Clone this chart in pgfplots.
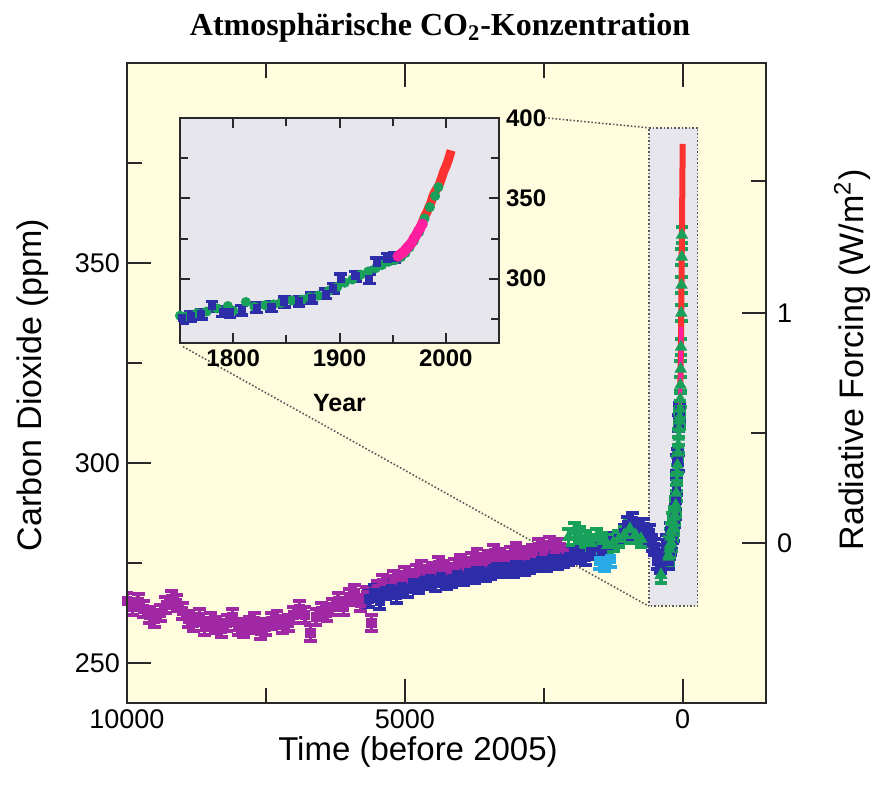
\documentclass[border=0pt]{standalone}
\usepackage{fontspec}
\setmainfont{Liberation Sans}
\newfontfamily\titlefont{Liberation Serif}
\usepackage{pgfplots}
\usepackage{pgfplotstable}
\pgfplotsset{compat=1.18}

\definecolor{cream}{RGB}{255,253,222}
\definecolor{insetbg}{RGB}{230,230,236}
\definecolor{cpurple}{RGB}{160,40,165}
\definecolor{cblue}{RGB}{45,45,170}
\definecolor{cgreen}{RGB}{25,160,90}
\definecolor{ccyan}{RGB}{40,170,230}
\definecolor{cpink}{RGB}{255,30,160}
\definecolor{cred}{RGB}{255,50,50}
\definecolor{axisgray}{RGB}{40,40,40}

% ice cores, 10000 years (x = years before 2005)
\pgfplotstableread{
x y
10000 265.5
9900 264.0
9800 265.2
9700 263.5
9600 262.0
9500 261.0
9400 262.5
9300 264.5
9200 266.0
9100 265.0
9000 263.0
8900 261.0
8800 260.0
8700 261.5
8600 259.0
8500 260.5
8400 259.5
8300 258.5
8200 260.0
8100 261.5
8000 259.0
7900 258.5
7800 259.5
7700 260.5
7600 258.0
7500 259.0
7400 260.5
7300 261.0
7200 259.5
7100 260.0
7000 262.0
6900 263.5
6800 262.0
6700 257.5
6600 261.5
6500 263.0
6400 262.5
6300 264.0
6200 265.5
6100 264.0
6000 266.5
5900 267.5
5800 265.0
5700 267.0
5600 260.0
5500 268.5
5400 270.0
5300 269.0
5200 271.0
5100 270.5
5000 272.0
4900 271.0
4800 272.5
4700 273.5
4600 272.0
4500 273.0
4400 274.5
4300 273.5
4200 272.5
4100 274.0
4000 275.0
3900 274.0
3800 275.5
3700 276.5
3600 275.0
3500 276.0
3400 277.5
3300 276.5
3200 275.5
3100 277.0
3000 278.0
2900 277.0
2800 276.5
2700 277.5
2600 279.0
2500 278.0
2400 279.5
2300 278.5
2200 279.0
2100 277.5
}\purpledata

\pgfplotstableread{
x y
5650 266.0
5550 267.5
5450 265.5
5350 268.0
5250 268.5
5150 267.0
5050 269.0
4950 268.5
4850 270.0
4750 269.5
4650 270.5
4550 271.0
4450 270.0
4350 271.5
4250 270.5
4150 271.0
4050 272.0
3950 271.5
3850 272.5
3750 272.0
3650 273.0
3550 272.5
3450 273.0
3350 274.0
3250 273.5
3150 274.0
3050 273.5
2950 274.5
2850 274.0
2750 274.5
2650 275.0
2550 275.5
2450 275.0
2350 276.0
2250 275.5
2150 276.0
2050 276.5
1950 277.5
1850 277.0
1750 276.5
1650 278.0
1550 279.0
1450 278.0
1350 279.5
1250 280.5
1150 281.0
1050 282.5
1000 284.5
950 283.0
900 285.5
850 283.5
800 284.0
750 282.5
700 284.0
650 281.5
600 282.5
550 280.0
500 279.0
450 275.5
400 274.5
350 277.5
300 280.0
}\bluedata

\pgfplotstableread{
x y
2050 281.5
1950 283.0
1850 282.0
1750 281.0
1650 280.0
1550 281.5
1450 280.5
1350 279.5
1250 280.0
1150 281.0
1050 282.0
950 283.5
850 282.0
750 281.0
390 272.0
}\greendata

\pgfplotstableread{
x y
1500 275.5
1400 275.0
1300 276.0
}\cyandata

% industrial era (year, ppm)
\pgfplotstableread{
year co2
1752 275.5
1760 276.5
1770 278.0
1780 283.0
1790 279.5
1797 279.0
1808 280.5
1822 282.0
1836 282.5
1848 285.5
1862 286.0
1874 288.0
1887 290.5
1894 294.0
1901 300.0
1915 301.5
1928 300.0
1935 310.0
1945 312.5
1952 313.0
}\iblue

\pgfplotstableread{
year co2
1750 277.0
1756 276.5
1766 278.5
1775 279.5
1785 281.5
1795 283.0
1800 280.0
1812 285.5
1820 282.5
1830 283.5
1838 284.0
1845 285.0
1855 286.5
1865 287.0
1872 288.5
1880 289.5
1890 292.5
1898 295.0
1905 297.5
1912 299.5
1920 302.5
1927 304.5
1934 306.5
1940 308.5
1946 310.5
1952 311.5
1958 313.5
1962 316.0
1966 319.5
1970 323.5
1975 329.0
1980 337.5
1985 344.5
1990 351.5
1993 357.0
}\igreen

\pgfplotstableread{
year co2
1955 314.0
1958 315.5
1960 316.5
1962 318.0
1964 319.5
1966 321.0
1968 322.5
1970 325.0
1972 327.0
1974 329.5
1976 331.5
1978 334.0
}\ipink

\pgfplotstableread{
year co2
1965 320.0
1968 323.0
1970 325.7
1972 327.4
1974 330.2
1976 332.1
1978 335.4
1980 338.7
1982 341.1
1984 344.4
1986 347.2
1988 351.6
1990 354.4
1992 356.4
1994 358.9
1996 362.6
1998 366.7
2000 369.6
2002 373.2
2004 377.5
2005 379.8
}\ired

\pgfplotsset{
  frame/.style={
    scale only axis,
    axis line style={line width=1pt, axisgray},
    tick style={line width=1pt, axisgray},
    scaled ticks=false,
    /pgf/number format/assume math mode=true,
    /pgf/number format/set thousands separator={},
  },
  errI/.style={only marks, mark=square*, mark size=#1,
    error bars/y dir=both, error bars/y fixed=2,
    error bars/error bar style={line width=1.7pt},
    error bars/error mark options={line width=1.7pt, mark size=3.2pt, rotate=90}},
}

\begin{document}
\begin{tikzpicture}
\useasboundingbox (-63.5pt,-41pt) rectangle (372.5pt,351.5pt);

% main axis
\begin{axis}[frame,
  width=319.5pt, height=320pt,
  x dir=reverse, xmin=-1500, xmax=10000, ymin=240, ymax=400,
  xtick={0,5000,10000}, minor xtick={2500,7500},
  ytick={250,300,350}, minor ytick={275,325,375},
  ytick pos=left,
  major tick length=12pt, minor tick length=7.5pt,
  axis background/.style={fill=cream},
  tick label style={font=\fontsize{13.5}{15}\selectfont},
]
\fill[insetbg] (axis cs:610,264.2) rectangle (axis cs:-270,383.8);
\draw[densely dotted, line width=0.8pt, gray!70!black]
  (axis cs:610,264.2) rectangle (axis cs:-270,383.8);
\draw[densely dotted, line width=0.8pt, gray!70!black]
  (axis cs:2482,386.3) -- (axis cs:610,383.8);
\draw[densely dotted, line width=0.8pt, gray!70!black]
  (axis cs:8993,329.1) -- (axis cs:610,264.2);

\addplot[errI=2.4pt, cpurple] table[x=x, y=y] {\purpledata};
\addplot[errI=2.4pt, cblue] table[x=x, y=y] {\bluedata};
\addplot[errI=2.4pt, ccyan] table[x=x, y=y] {\cyandata};
\addplot[errI=2.4pt, cgreen, mark=triangle*, mark size=3.4pt] table[x=x, y=y] {\greendata};
\addplot[errI=2.2pt, cblue] table[x expr=2005-\thisrow{year}, y=co2] {\iblue};
\addplot[errI=2.2pt, cgreen, mark=triangle*, mark size=3.2pt] table[x expr=2005-\thisrow{year}, y=co2] {\igreen};
\addplot[cred, line width=3pt] table[x expr=2005-\thisrow{year}, y=co2] {\ired};
\addplot[cpink, line width=2pt] table[x expr=2005-\thisrow{year}, y=co2] {\ipink};
\end{axis}

% radiative forcing scale (right)
\begin{axis}[frame,
  width=319.5pt, height=320pt,
  xmin=0, xmax=1, ymin=240, ymax=400,
  hide x axis,
  ytick pos=right, yticklabel pos=right,
  ytick={280,337.5}, yticklabels={0,1}, minor ytick={307.4,370.6},
  major tick length=12pt, minor tick length=7.5pt,
  tick label style={font=\fontsize{13.5}{15}\selectfont},
  yticklabel style={xshift=2pt},
]
\addplot[draw=none] coordinates {(0.5,300)};
\end{axis}

% inset
\begin{axis}[frame,
  at={(26.5pt,180pt)}, anchor=south west,
  width=159.5pt, height=112.5pt,
  xmin=1750, xmax=2050, ymin=260, ymax=400,
  xtick={1800,1900,2000}, minor xtick={1850,1950},
  ytick={300,350,400}, minor ytick={275,325,375},
  yticklabel pos=right,
  major tick length=5pt, minor tick length=4pt,
  axis background/.style={fill=insetbg},
  tick label style={font=\bfseries\fontsize{12}{13}\selectfont},
  xlabel={Year}, xlabel style={font=\bfseries\fontsize{12.5}{14}\selectfont, yshift=-7pt},
]
\addplot[cgreen, only marks, mark=*, mark size=2.3pt] table[x=year, y=co2] {\igreen};
\addplot[errI=1.8pt, cblue, error bars/y fixed=3] table[x=year, y=co2] {\iblue};
\addplot[cred, line width=4.5pt] table[x=year, y=co2] {\ired};
\addplot[cpink, only marks, mark=*, mark size=2.5pt] table[x=year, y=co2] {\ipink};
\end{axis}

\node[font=\titlefont\bfseries\fontsize{16}{18}\selectfont] at (156.5pt,337.5pt)
  {Atmosphärische CO\textsubscript{2}-Konzentration};
\node[font=\fontsize{16.5}{18}\selectfont] at (145.5pt,-24.5pt) {Time (before 2005)};
\node[rotate=90, font=\fontsize{17}{19}\selectfont] at (-47pt,159pt) {Carbon Dioxide (ppm)};
\node[rotate=90, font=\fontsize{17}{19}\selectfont] at (362.5pt,171.5pt) {Radiative Forcing (W/m\textsuperscript{2})};
\end{tikzpicture}
\end{document}
